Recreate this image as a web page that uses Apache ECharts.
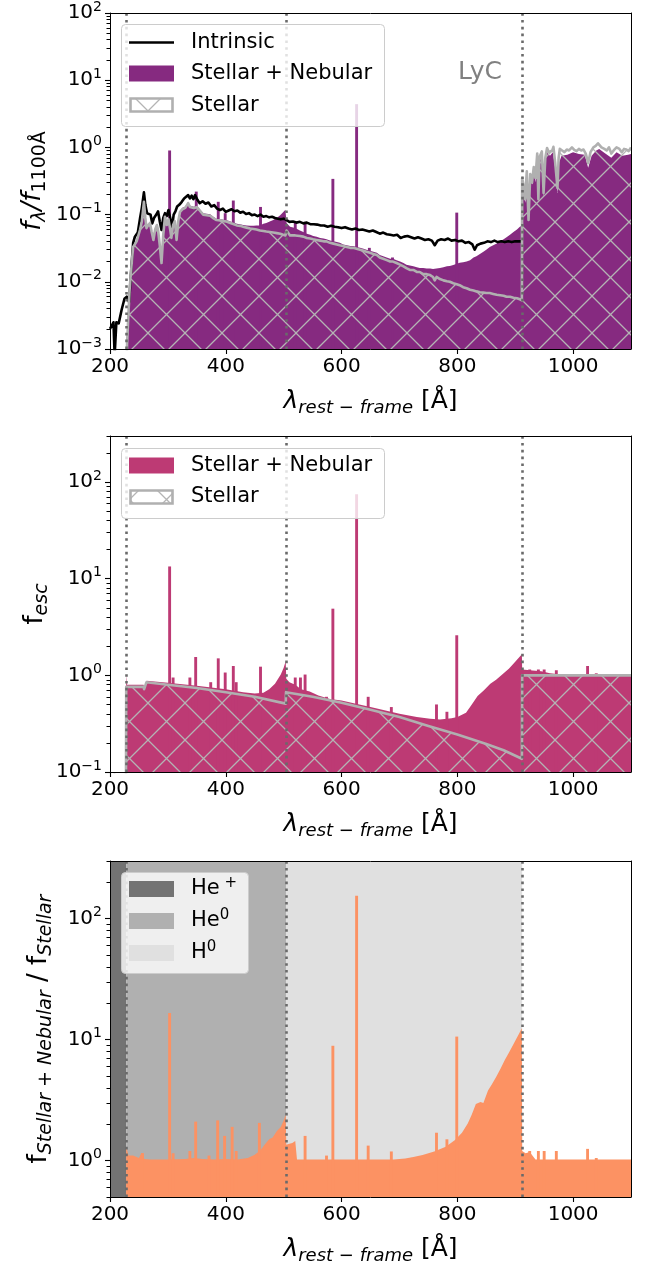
<!DOCTYPE html>
<html>
<head>
<meta charset="utf-8">
<script src="https://cdn.jsdelivr.net/npm/echarts@6/dist/echarts.min.js"></script>
<style>
  html, body { margin: 0; background: #fff; }
  #chart { width: 649px; height: 1268px; }
</style>
</head>
<body>
<div id="chart"></div>
<script>
// ---- data ----
const edgeWave = [228, 504, 912]
const xTicks = [200, 400, 600, 800, 1000]

// panel 1: f_lambda / f_1100
const intrinsicWave = [200,203,206,208,211,215,220,225,229,233,237,240,243,248,252,255,258.6,261,264,267,270,273,276,280,283,286,289,292,295,298,301,304,307,310,313,316,320,324,328,331,335,338,341,344,347,351,355,360,365,370,375,380,385,390,395,400,405,410,415,420,425,430,435,440,445,450,455,460,465,470,475,480,485,490,495,500,505,510,516,522,528,534,540,546,552,558,564,570,576,582,588,594,600,606,612,618,624,630,636,642,648,654,660,666,672,678,684,690,696,702,708,714,720,726,732,738,744,750,756,761,766,772,778,784,790,796,802,808,814,820,826,830,834,840,846,852,858,864,870,876,882,888,894,900,906,911]
const intrinsicFlux = [0.0020,0.0019,0.0025,0.0008,0.0025,0.0024,0.0038,0.0056,0.0060,0.0050,0.0166,0.038,0.047,0.054,0.089,0.126,0.214,0.141,0.105,0.112,0.100,0.074,0.089,0.100,0.112,0.079,0.059,0.089,0.105,0.095,0.117,0.089,0.063,0.100,0.112,0.132,0.141,0.155,0.174,0.186,0.195,0.174,0.191,0.170,0.195,0.166,0.148,0.158,0.145,0.151,0.132,0.138,0.123,0.117,0.123,0.110,0.115,0.120,0.112,0.115,0.107,0.110,0.102,0.105,0.098,0.100,0.095,0.100,0.093,0.095,0.091,0.093,0.089,0.087,0.085,0.087,0.083,0.078,0.079,0.076,0.078,0.074,0.076,0.072,0.072,0.071,0.069,0.069,0.066,0.068,0.066,0.065,0.063,0.065,0.062,0.060,0.062,0.059,0.060,0.058,0.056,0.058,0.055,0.052,0.054,0.051,0.050,0.049,0.050,0.045,0.047,0.048,0.046,0.044,0.046,0.044,0.042,0.043,0.041,0.035,0.041,0.043,0.042,0.044,0.041,0.042,0.040,0.041,0.038,0.039,0.036,0.030,0.035,0.037,0.038,0.040,0.039,0.041,0.039,0.040,0.039,0.040,0.039,0.040,0.040,0.040]

const stellarWave = [200,228.5,229.5,231.6,234,237,240,243,246,249,252,255,258.6,261,263,266,269,272,275,278,281,283,286,289,292,295,298,301,304,306,309,312,315,318,321,325,330,335,338,341,345,350,355,361,367,373,379,384,390,396,401,408,414,419,425,430,436,442,448,453,459,465,470,476,482,488,494,499,503,505,508,511,514,520,528,534,540,546,551,557,563,569,574,580,586,592,597,603,609,615,620,626,632,638,643,649,655,661,666,672,678,684,689,695,701,707,712,718,724,730,735,741,747,753,758,761,764,770,776,782,787,793,799,804,810,816,822,828,833,839,845,850,856,862,868,874,880,885,891,897,903,908,911.5,912,915,917,920,923,926,929,932,935,938,940,942,946,949,952,955,958,961,964,966,969,973,975,977,981,985,989,993,998,1002,1006,1010,1014,1018,1022,1026,1030,1035,1039,1043,1049,1054,1058,1062,1066,1070,1075,1080,1084,1088,1092,1096,1100]
const stellarFlux = [0.0005,0.0005,0.0012,0.003,0.008,0.0166,0.033,0.035,0.040,0.042,0.060,0.079,0.155,0.090,0.063,0.070,0.075,0.055,0.042,0.060,0.070,0.059,0.035,0.019,0.050,0.093,0.070,0.085,0.060,0.045,0.070,0.080,0.042,0.080,0.110,0.120,0.126,0.148,0.130,0.135,0.125,0.129,0.115,0.100,0.098,0.096,0.088,0.083,0.082,0.080,0.079,0.075,0.072,0.069,0.068,0.066,0.064,0.062,0.061,0.060,0.058,0.057,0.056,0.055,0.054,0.053,0.052,0.050,0.049,0.058,0.060,0.049,0.051,0.049,0.048,0.047,0.045,0.044,0.043,0.042,0.041,0.040,0.040,0.038,0.037,0.036,0.035,0.034,0.033,0.032,0.032,0.031,0.030,0.029,0.028,0.027,0.026,0.025,0.023,0.022,0.021,0.020,0.020,0.019,0.018,0.017,0.016,0.015,0.015,0.014,0.014,0.013,0.013,0.0126,0.0118,0.0105,0.0118,0.0110,0.0105,0.0102,0.0100,0.0095,0.0092,0.0089,0.0083,0.0080,0.0076,0.0074,0.0072,0.0070,0.0069,0.0068,0.0068,0.0066,0.0064,0.0063,0.0062,0.0060,0.0060,0.0058,0.0057,0.0055,0.0053,0.35,0.25,0.17,0.44,0.083,0.40,0.30,0.51,0.35,0.81,0.17,0.72,0.87,0.21,0.70,0.98,0.85,0.87,0.90,1.02,0.60,0.25,0.70,0.95,0.90,0.85,0.93,0.90,1.00,0.92,0.88,0.95,0.90,0.93,0.80,0.58,0.85,1.00,1.05,1.15,1.00,0.95,0.90,1.00,0.81,0.90,1.00,0.95,0.85,0.95,0.93,0.88,1.00]

const totalWave = [200,228.5,229.5,231.6,234,237,240,243,246,249,252,255,258.6,261,263,266,269,272,275,278,281,283,286,289,292,295,298,301,304,306,309,312,315,318,321,325,330,335,338,341,345,350,355,361,367,373,379,384,390,396,401,408,414,419,425,430,436,442,448,453,459,465,470,476,482,488,494,499,503,505,508,511,514,520,528,534,540,546,551,557,563,569,574,580,586,592,597,603,609,615,620,626,632,638,643,649,655,661,666,672,678,684,689,695,701,707,712,718,724,730,735,741,747,753,758,764,770,776,782,787,793,799,804,810,816,822,828,833,839,845,850,856,862,868,874,880,885,891,897,903,908,911.5,912,915,918,920,923,926,930,932,935,938,940,942,946,949,952,955,960,965,969,973,976,980,990,1000,1010,1020,1026,1032,1040,1045,1055,1066,1075,1085,1095,1100]
const totalFlux = [0.0005,0.0005,0.0012,0.003,0.008,0.017,0.034,0.037,0.042,0.045,0.063,0.082,0.160,0.095,0.067,0.073,0.078,0.058,0.045,0.063,0.073,0.062,0.037,0.020,0.052,0.097,0.073,0.089,0.063,0.047,0.073,0.084,0.044,0.084,0.115,0.126,0.132,0.155,0.137,0.142,0.131,0.135,0.121,0.105,0.103,0.101,0.092,0.087,0.086,0.084,0.083,0.079,0.076,0.073,0.072,0.070,0.069,0.068,0.068,0.069,0.069,0.073,0.075,0.079,0.083,0.089,0.098,0.108,0.118,0.075,0.080,0.066,0.065,0.063,0.058,0.055,0.052,0.050,0.048,0.047,0.045,0.044,0.043,0.041,0.040,0.039,0.038,0.036,0.035,0.034,0.034,0.033,0.032,0.031,0.030,0.029,0.028,0.027,0.025,0.024,0.023,0.022,0.022,0.021,0.020,0.019,0.018,0.0175,0.017,0.0165,0.016,0.016,0.0158,0.0158,0.0155,0.0158,0.0160,0.0165,0.0170,0.0172,0.0178,0.0185,0.0192,0.0195,0.0200,0.0210,0.0230,0.0240,0.0260,0.0280,0.0300,0.0330,0.0350,0.0370,0.0400,0.0430,0.0460,0.0500,0.0550,0.0600,0.0660,0.0680,0.30,0.20,0.15,0.38,0.08,0.34,0.28,0.45,0.30,0.70,0.15,0.62,0.75,0.18,0.60,0.85,0.75,0.85,0.50,0.21,0.60,0.75,0.78,0.85,0.80,0.78,0.50,0.75,0.90,0.95,0.82,0.70,0.85,0.75,0.78,0.80]

const lineWave = [303,349,387,399,413,460,520,537,585,626,648,688,799]
const lineFlux = [0.90,0.22,0.155,0.105,0.162,0.13,0.078,0.078,0.34,4.4,0.032,0.023,0.107]

// panel 2: escape fraction
const escStellarWave = [200,227.5,228,258,259,262,263,300,350,400,450,503.5,504,550,600,650,700,750,800,850,880,911.5,912,1100]
const escStellar = [0.05,0.05,0.76,0.76,0.72,0.72,0.85,0.80,0.74,0.67,0.60,0.51,0.67,0.60,0.52,0.44,0.37,0.30,0.245,0.195,0.168,0.137,1.0,1.0]
const escTotalWave = [200,227.5,228,229.5,258,259,262,263,300,350,400,430,450,465,475,485,495,500,503.5,504.5,510,520,530,545,560,580,600,650,700,730,753,770,790,800,815,825,835,846,857,867,878,889,900,911.5,912,930,945,960,980,1000,1100]
const escTotal = [0.05,0.05,1.0,0.80,0.80,0.75,0.75,0.88,0.84,0.78,0.72,0.67,0.65,0.66,0.72,0.82,1.02,1.2,1.4,0.92,0.85,0.80,0.72,0.68,0.62,0.57,0.55,0.47,0.40,0.37,0.355,0.35,0.36,0.37,0.41,0.50,0.61,0.70,0.82,0.90,1.03,1.17,1.38,1.65,1.15,1.12,1.10,1.05,1.02,1.0,1.0]
const escLineWave = [303,309,338,348,374,387,399,413,418,460,520,529,537,574,585,626,646,686,764,782,799,925,940,950,971,1025,1040]
const escLine = [13.4,0.95,0.95,1.55,0.85,1.5,1.07,1.25,0.85,1.23,0.95,0.95,1.02,0.6,4.9,75,0.6,0.47,0.5,0.42,2.6,1.15,1.15,1.15,1.13,1.25,1.05]

// panel 3: nebular / stellar ratio
const ratioWave = [200,227.5,228,231,232,240,250,254,258,259,270,300,330,345,360,380,400,420,438,450,460,467,475,481,488,495,500,503.5,504.5,510,515,520,523,540,600,650,690,710,724,740,760,780,796,808,818,825,832,840,845,853,860,867,875,882,889,896,904,911.5,912,918,925,935,1100]
const ratio = [0.1,0.1,1.3,1.3,1.1,1.1,1.05,1.15,1.15,1.03,1.02,1.02,1.03,1.05,1.03,1.02,1.03,1.02,1.05,1.12,1.22,1.35,1.50,1.55,1.75,1.90,2.15,2.40,1.35,1.38,1.40,1.45,1.02,1.02,1.02,1.02,1.02,1.04,1.07,1.11,1.19,1.30,1.48,1.70,2.03,2.40,2.94,3.05,3.00,3.80,4.30,4.90,5.80,6.80,7.80,9.00,10.6,12.4,1.20,1.15,1.18,1.02,1.02]
const ratioLineWave = [256,303,309,338,348,371,386,398,411,418,458,537,574,585,626,646,686,764,782,799,925,940,950,971,1025,1040]
const ratioLine = [1.15,16.6,1.15,1.2,2.1,1.1,2.15,1.6,1.9,1.2,2.05,1.6,1.1,8.9,155,1.33,1.19,1.7,1.5,10.6,1.2,1.2,1.2,1.2,1.25,1.05]

const ionBands = [[200, 228], [228, 504], [504, 912]]

// ---- styling ----
const FONT = "DejaVu Sans"
const PURPLE = "#862a80"
const MAGENTA = "#bd3a74"
const ORANGE = "#fc9263"
const GREY = "#b0b0b0"
const BAND_COLORS = ["#737373", "#b0b0b0", "#e0e0e0"]

const panelTops = [13, 436, 861]
const yRanges = [[0.001, 100], [0.1, 300], [0.5, 300]]
const yMajor = [[0.001, 0.01, 0.1, 1, 10, 100], [0.1, 1, 10, 100], [1, 10, 100]]

const pairs = (xs, ys) => xs.map((x, i) => [x, ys[i]])

function makeHatch() {
  const d = 37
  const c = document.createElement("canvas")
  c.width = d
  c.height = d
  const ctx = c.getContext("2d")
  ctx.strokeStyle = "#b4b4b4"
  ctx.lineWidth = 1.3
  ctx.beginPath()
  for (const o of [-d, 0, d]) {
    ctx.moveTo(o, 0); ctx.lineTo(o + d, d)
    ctx.moveTo(o, d); ctx.lineTo(o + d, 0)
  }
  ctx.stroke()
  return c
}
const hatch = { image: makeHatch(), repeat: "repeat" }

// log-axis minor tick positions (2..9 x 10^k inside the range)
function minorValues(lo, hi) {
  const out = []
  for (let k = -4; k <= 3; k++) {
    for (let m = 2; m <= 9; m++) {
      const v = m * Math.pow(10, k)
      if (v >= lo * 0.999 && v <= hi * 1.001) out.push(v)
    }
  }
  return out
}

function expLabel(v) {
  const e = Math.round(Math.log10(v))
  return "{b|10}{s|" + (e < 0 ? "\u2212" + (-e) : e) + "}"
}

const edgeMarks = {
  silent: true,
  symbol: ["none", "none"],
  label: { show: false },
  lineStyle: { type: [2.6, 4.2], width: 2.6, color: "#6a6a6a", opacity: 1 },
  data: edgeWave.map(v => ({ xAxis: v }))
}

function areaSeries(idx, xs, ys, color, extra) {
  return Object.assign({
    type: "line",
    xAxisIndex: idx,
    yAxisIndex: idx,
    data: pairs(xs, ys),
    symbol: "none",
    silent: true,
    lineStyle: { width: 0 },
    areaStyle: { color, opacity: 1, origin: "start" },
    z: 2
  }, extra || {})
}

function spikeSeries(idx, xs, ys, color) {
  const yMin = yRanges[idx][0]
  return {
    type: "custom",
    xAxisIndex: idx,
    yAxisIndex: idx,
    data: pairs(xs, ys),
    silent: true,
    z: 2,
    renderItem(params, api) {
      const x = api.value(0)
      const a = api.coord([x - 2.5, api.value(1)])
      const b = api.coord([x + 2.5, yMin])
      return {
        type: "rect",
        shape: { x: a[0], y: a[1], width: b[0] - a[0], height: b[1] - a[1] },
        style: { fill: color }
      }
    }
  }
}

function stellarSeries(idx, xs, ys) {
  return {
    type: "line",
    xAxisIndex: idx,
    yAxisIndex: idx,
    data: pairs(xs, ys),
    symbol: "none",
    silent: true,
    lineStyle: { color: GREY, width: 2.6, join: "round" },
    areaStyle: { color: hatch, opacity: 1, origin: "start" },
    z: 4
  }
}

const blackLine = { show: true, onZero: false, lineStyle: { color: "#000", width: 1 } }
const xNameRich = {
  l: { fontFamily: FONT, fontSize: 25, fontStyle: "italic", color: "#000", lineHeight: 32 },
  s: { fontFamily: FONT, fontSize: 18, fontStyle: "italic", color: "#000", lineHeight: 18, verticalAlign: "bottom" },
  f: { fontFamily: FONT, fontSize: 25, color: "#000", lineHeight: 32 }
}
const yNameRich = {
  i: { fontFamily: FONT, fontSize: 26, fontStyle: "italic", color: "#000", lineHeight: 34 },
  f: { fontFamily: FONT, fontSize: 26, color: "#000", lineHeight: 34 },
  s: { fontFamily: FONT, fontSize: 19, fontStyle: "italic", color: "#000", lineHeight: 19, verticalAlign: "bottom" },
  u: { fontFamily: FONT, fontSize: 19, color: "#000", lineHeight: 19, verticalAlign: "bottom" }
}
const yNames = [
  "{i|f}{s|\u03bb}{i|/f}{u|1100\u00c5}",
  "{f|f}{s|esc}",
  "{f|f}{s|Stellar + Nebular}{f| / f}{s|Stellar}"
]
const yNameGaps = [60, 58, 54]

const grids = panelTops.map(top => ({
  left: 110, width: 521, top, height: 336,
  show: false, containLabel: false, outerBoundsMode: "none"
}))

const xAxes = []
const yAxes = []
// main axes: indices 0..2
for (let i = 0; i < 3; i++) {
  xAxes.push({
    type: "value", gridIndex: i, min: 200, max: 1100, position: "bottom", z: 10,
    axisLine: blackLine,
    axisTick: { show: true, length: 5, customValues: xTicks, lineStyle: { color: "#000", width: 1.1 } },
    axisLabel: { customValues: xTicks, color: "#000", fontSize: 20, fontFamily: FONT, margin: 8, formatter: v => String(v) },
    splitLine: { show: false },
    name: "{l|\u03bb}{s|rest \u2212 frame}{f| [\u00c5]}",
    nameLocation: "middle", nameGap: 36, nameMoveOverlap: false,
    nameTextStyle: { rich: xNameRich }
  })
  yAxes.push({
    type: "log", logBase: 10, gridIndex: i, min: yRanges[i][0], max: yRanges[i][1], position: "left", z: 10,
    axisLine: blackLine,
    axisTick: { show: true, length: 5, customValues: yMajor[i], lineStyle: { color: "#000", width: 1.1 } },
    axisLabel: {
      customValues: yMajor[i], margin: 8, formatter: expLabel,
      rich: {
        b: { fontFamily: FONT, fontSize: 20, color: "#000", lineHeight: 26 },
        s: { fontFamily: FONT, fontSize: 14, color: "#000", lineHeight: 14, verticalAlign: "top" }
      }
    },
    splitLine: { show: false },
    name: yNames[i], nameLocation: "middle", nameRotate: 90, nameGap: yNameGaps[i], nameMoveOverlap: false,
    nameTextStyle: { rich: yNameRich }
  })
}
// frame axes (top / right spines): indices 3..5
for (let i = 0; i < 3; i++) {
  xAxes.push({
    type: "value", gridIndex: i, min: 200, max: 1100, position: "top", z: 10,
    axisLine: blackLine, axisTick: { show: false }, axisLabel: { show: false }, splitLine: { show: false }
  })
  yAxes.push({
    type: "value", gridIndex: i, min: 0, max: 1, position: "right", z: 10,
    axisLine: blackLine, axisTick: { show: false }, axisLabel: { show: false }, splitLine: { show: false }
  })
}
// minor-tick axes overlaid on the left spines: y indices 6..8
for (let i = 0; i < 3; i++) {
  yAxes.push({
    type: "log", logBase: 10, gridIndex: i, min: yRanges[i][0], max: yRanges[i][1], position: "left", offset: 0, z: 10,
    axisLine: { show: false, onZero: false },
    axisTick: { show: true, length: 3.5, customValues: minorValues(yRanges[i][0], yRanges[i][1]), lineStyle: { color: "#000", width: 1 } },
    axisLabel: { show: false },
    splitLine: { show: false }
  })
}

const series = [
  // panel 1
  areaSeries(0, totalWave, totalFlux, PURPLE, { markLine: edgeMarks }),
  spikeSeries(0, lineWave, lineFlux, PURPLE),
  {
    type: "line", xAxisIndex: 0, yAxisIndex: 0, data: pairs(intrinsicWave, intrinsicFlux),
    symbol: "none", silent: true, z: 3,
    lineStyle: { color: "#000", width: 2.6, join: "round" }
  },
  stellarSeries(0, stellarWave, stellarFlux),
  // panel 2
  areaSeries(1, escTotalWave, escTotal, MAGENTA, { markLine: edgeMarks }),
  spikeSeries(1, escLineWave, escLine, MAGENTA),
  stellarSeries(1, escStellarWave, escStellar),
  // panel 3
  areaSeries(2, ratioWave, ratio, ORANGE, {
    markLine: edgeMarks,
    markArea: {
      silent: true,
      data: ionBands.map((b, k) => [{ xAxis: b[0], itemStyle: { color: BAND_COLORS[k], opacity: 1 } }, { xAxis: b[1] }])
    }
  }),
  spikeSeries(2, ratioLineWave, ratioLine, ORANGE)
]

// legends (drawn as graphics so the hatched patch can be reproduced)
const legendFont = { fontFamily: FONT, fontSize: 21, fill: "#000" }
function legendText(x, y, text, rich) {
  return {
    type: "text", z: 100, silent: true,
    style: Object.assign({ x, y, text, verticalAlign: "middle", textVerticalAlign: "middle", rich }, legendFont)
  }
}
function legendBox(x, y, w, h) {
  return {
    type: "rect", z: 99, silent: true,
    shape: { x, y, width: w, height: h, r: 4 },
    style: { fill: "rgba(255,255,255,0.8)", stroke: "#cccccc", lineWidth: 1 }
  }
}
function patch(y, fill, stroke) {
  return {
    type: "rect", z: 100, silent: true,
    shape: stroke ? { x: 130.5, y: y + 1.5, width: 42, height: 13 } : { x: 129, y, width: 45, height: 16 },
    style: stroke ? { fill, stroke, lineWidth: 2.6 } : { fill }
  }
}
const supRich = {
  a: { fontFamily: FONT, fontSize: 21, color: "#000", lineHeight: 26 },
  s: { fontFamily: FONT, fontSize: 15, color: "#000", lineHeight: 15, verticalAlign: "top" }
}

const graphic = [
  // top legend
  legendBox(121.5, 24.5, 263, 102),
  { type: "line", z: 100, silent: true, shape: { x1: 129, y1: 42.5, x2: 174, y2: 42.5 }, style: { stroke: "#000", lineWidth: 2.6 } },
  legendText(191, 42.5, "Intrinsic"),
  patch(65.5, PURPLE),
  legendText(191, 73.5, "Stellar + Nebular"),
  patch(97, hatch, GREY),
  legendText(191, 105.5, "Stellar"),
  { type: "text", z: 100, silent: true, style: { x: 480, y: 72, text: "LyC", fontFamily: FONT, fontSize: 25, fill: "#808080", align: "center", textAlign: "center", verticalAlign: "middle", textVerticalAlign: "middle" } },
  // middle legend
  legendBox(121.5, 448.5, 263, 70),
  patch(457.5, MAGENTA),
  legendText(191, 465.5, "Stellar + Nebular"),
  patch(489, hatch, GREY),
  legendText(191, 497, "Stellar"),
  // bottom legend
  legendBox(121.5, 872.5, 127, 101),
  patch(881, BAND_COLORS[0]),
  legendText(191, 889, "{a|He}{s| +}", supRich),
  patch(913, BAND_COLORS[1]),
  legendText(191, 921, "{a|He}{s|0}", supRich),
  patch(945, BAND_COLORS[2]),
  legendText(191, 953, "{a|H}{s|0}", supRich)
]

const chart = echarts.init(document.getElementById("chart"), null, { renderer: "canvas" })
chart.setOption({
  animation: false,
  backgroundColor: "#fff",
  textStyle: { fontFamily: FONT },
  grid: grids,
  xAxis: xAxes,
  yAxis: yAxes,
  series,
  graphic
})
</script>
</body>
</html>
